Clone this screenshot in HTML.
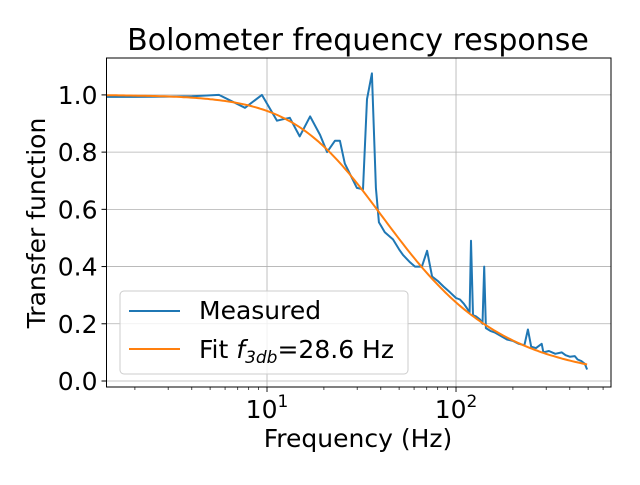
<!DOCTYPE html>
<html><head><meta charset="utf-8"><style>
body{margin:0;background:#fff}
svg text{font-family:"DejaVu Sans","Liberation Sans",sans-serif;fill:#000}
</style></head><body>
<svg id="c" width="640" height="480" viewBox="0 0 640 480"></svg>
<script>
const freqs=[1.42,2,3,4,5.57,7.65,9.4,11.3,12.2,13.2,14.9,16.9,19.1,20.8,22.9,24.3,25.8,29.9,32.2,33.8,35.9,37.7,39.1,42,46.4,50,52.5,57.1,60.7,66,70.3,74.7,80,86,92.9,100,105,110,114,118,120,123,128,134,138,141,144,152,160,170,186,200,215,230,240,250,265,284,290,310,335,363,380,400,425,440,460,480,494];
const measured=[0.993,0.993,0.994,0.995,1.0,0.955,1.0,0.91,0.915,0.92,0.855,0.925,0.86,0.80,0.84,0.84,0.76,0.675,0.67,0.985,1.075,0.675,0.555,0.52,0.495,0.46,0.44,0.415,0.40,0.40,0.455,0.365,0.35,0.33,0.31,0.29,0.285,0.27,0.255,0.24,0.49,0.23,0.225,0.215,0.20,0.40,0.185,0.175,0.17,0.16,0.145,0.14,0.13,0.125,0.18,0.12,0.115,0.13,0.10,0.105,0.095,0.10,0.09,0.085,0.087,0.075,0.07,0.06,0.04];
const f3db=28.6;
const xTicks=[10,100];
const yTicks=[0,0.2,0.4,0.6,0.8,1.0];
const yTickLabels=["0.0","0.2","0.4","0.6","0.8","1.0"];
const L=106.5,R=611,T=58,B=387;
const lx0=0.1508,lx1=2.820,y0=-0.021,y1=1.129;
const X=f=>L+(Math.log10(f)-lx0)/(lx1-lx0)*(R-L);
const Y=v=>B-(v-y0)/(y1-y0)*(B-T);
const s=document.getElementById('c');const NS='http://www.w3.org/2000/svg';
function mk(t,a,p){const e=document.createElementNS(NS,t);for(const k in a)e.setAttribute(k,a[k]);(p||s).appendChild(e);return e;}
xTicks.forEach(f=>{const g=mk('line',{x1:X(f),x2:X(f),y1:T,y2:B,stroke:'#b0b0b0','stroke-width':0.8});

});
yTicks.forEach(v=>{const g=mk('line',{x1:L,x2:R,y1:Y(v),y2:Y(v),stroke:'#b0b0b0','stroke-width':0.8});

});
let fp=[];for(let i=0;i<=200;i++){const f=Math.pow(10,Math.log10(1.42)+i/200*(Math.log10(494)-Math.log10(1.42)));fp.push(X(f).toFixed(1)+','+Y(1/Math.sqrt(1+(f/f3db)**2)).toFixed(1));}
const mp=freqs.map((f,i)=>X(f).toFixed(1)+','+Y(measured[i]).toFixed(1));
const m=mk('polyline',{points:mp.join(' '),fill:'none',stroke:'#1f77b4','stroke-width':2,'stroke-linejoin':'round'});


const fl=mk('polyline',{points:fp.join(' '),fill:'none',stroke:'#ff7f0e','stroke-width':2});


const fr=mk('rect',{x:L,y:T,width:R-L,height:B-T,fill:'none',stroke:'#000','stroke-width':1});


for(let d=0;d<=2;d++)for(let k=1;k<10;k++){const f=k*Math.pow(10,d);if(f<1.42||f>661)continue;
const maj=k===1;mk('line',{x1:X(f),x2:X(f),y1:B,y2:B+(maj?5:3),stroke:'#000','stroke-width':maj?0.9:0.7});}
xTicks.forEach(f=>{const t=mk('text',{x:X(f),y:418,'font-size':25,'text-anchor':'middle'});


t.innerHTML='10<tspan dy="-11" font-size="17">'+Math.round(Math.log10(f))+'</tspan>';});
yTicks.forEach((v,i)=>{mk('line',{x1:L-5,x2:L,y1:Y(v),y2:Y(v),stroke:'#000'});
const t=mk('text',{x:L-9,y:Y(v)+9,'font-size':25,'text-anchor':'end'});t.textContent=yTickLabels[i];

});
</script>
<svg width="640" height="480" style="position:absolute;left:0;top:0">
<text x="358" y="50" font-size="30" text-anchor="middle">Bolometer frequency response</text>
<text x="358" y="447" font-size="25" text-anchor="middle">Frequency (Hz)</text>
<text transform="translate(45,223) rotate(-90)" font-size="25" text-anchor="middle">Transfer function</text>
<g>
<rect x="120" y="291" width="288" height="83" rx="4" fill="#fff" fill-opacity="0.8" stroke="#ccc"/>
<line x1="129" x2="180" y1="311" y2="311" stroke="#1f77b4" stroke-width="2"/>
<text x="199" y="319" font-size="25">Measured</text>
<line x1="129" x2="180" y1="349" y2="349" stroke="#ff7f0e" stroke-width="2"/>
<text x="199" y="358" font-size="25">Fit <tspan font-style="italic">f</tspan><tspan font-style="italic" font-size="17" dy="5">3db</tspan><tspan dy="-5">=28.6 Hz</tspan></text>
</g>
</svg>
</body></html>
